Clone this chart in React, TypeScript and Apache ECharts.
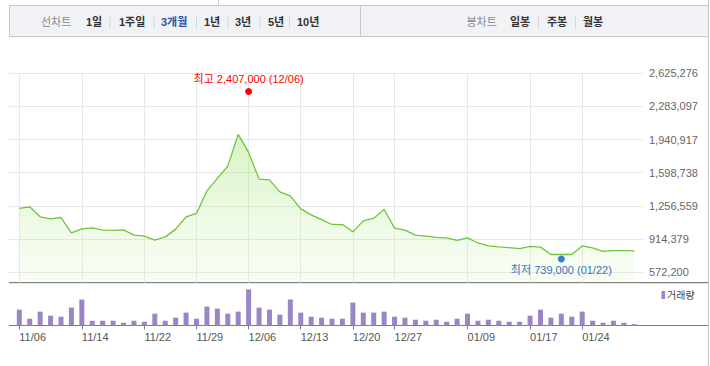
import { useEffect, useRef } from 'react';
import * as echarts from 'echarts';

// ---- data ----
const dates = [
  '11/06','11/07','11/08','11/09','11/10','11/13','11/14','11/15','11/16','11/17',
  '11/20','11/21','11/22','11/23','11/24','11/27','11/28','11/29','11/30','12/01',
  '12/04','12/05','12/06','12/07','12/08','12/11','12/12','12/13','12/14','12/15',
  '12/18','12/19','12/20','12/21','12/22','12/26','12/27','12/28','01/02','01/03',
  '01/04','01/05','01/08','01/09','01/10','01/11','01/12','01/15','01/16','01/17',
  '01/18','01/19','01/22','01/23','01/24','01/25','01/26','01/29','01/30','01/31',
];
const closes = [
  1230000,1247000,1144000,1123000,1137000,978000,1020000,1030000,1006000,1003000,
  1009000,955000,944000,903000,937000,1017000,1144000,1179000,1412000,1540000,
  1667000,1995000,1809000,1533000,1526000,1402000,1361000,1226000,1164000,1115000,
  1065000,1064000,989000,1102000,1130000,1220000,1027000,1006000,955000,944000,
  931000,927000,900000,927000,874000,843000,834000,827000,815000,838000,
  831000,755000,755000,755000,844000,823000,787000,796000,796000,792000,
];
const volumes = [
  157000,67000,137000,97000,87000,177000,257000,47000,47000,47000,
  27000,47000,37000,117000,47000,77000,127000,67000,187000,167000,
  117000,137000,357000,177000,157000,107000,257000,127000,87000,77000,
  67000,67000,227000,127000,127000,137000,87000,77000,57000,47000,
  57000,37000,67000,117000,47000,57000,47000,37000,37000,97000,
  157000,77000,117000,87000,137000,47000,27000,47000,27000,13000,
];
const tickDates = ['11/06','11/14','11/22','11/29','12/06','12/13','12/20','12/27','01/09','01/17','01/24'];
const yTickLabels = [572200, 914379, 1256559, 1598738, 1940917, 2283097, 2625276];
const highPoint = { date: '12/06', value: 2407000 };
const lowPoint = { date: '01/22', value: 739000 };
const lineTabs = ['1일', '1주일', '3개월', '1년', '3년', '5년', '10년'];
const candleTabs = ['일봉', '주봉', '월봉'];
const selectedTab = '3개월';

const FONT = "'Liberation Sans', Arial, 'Noto Sans CJK KR', sans-serif";
const fmt = (v: number) => v.toLocaleString('en-US');
const isTick = (_i: number, v: string) => tickDates.includes(v);

export default function App() {
  const ref = useRef<HTMLDivElement>(null);
  useEffect(() => {
    if (!ref.current) return;
    const chart = echarts.init(ref.current, undefined, { renderer: 'svg' });

    const lineTabX = [86, 119, 161, 204, 235, 268, 297];
    const lineSepX = [110, 154, 196.5, 228, 260, 289.5];
    const candleTabX = [510, 547, 583];
    const candleSepX = [538.5, 575.5];

    const graphic: any[] = [
      { type: 'line', shape: { x1: 218.5, y1: 0, x2: 218.5, y2: 5 }, style: { stroke: '#cfcfcf', lineWidth: 1 } },
      { type: 'rect', shape: { x: 9.5, y: 5.5, width: 699, height: 31 }, style: { fill: '#f0f2f6', stroke: '#c6c8cc', lineWidth: 1 } },
      { type: 'line', shape: { x1: 360.5, y1: 6, x2: 360.5, y2: 36 }, style: { stroke: '#c6c8cc', lineWidth: 1 } },
      { type: 'text', x: 41, y: 22, style: { text: '선차트', fill: '#8a8a8a', font: `11px ${FONT}`, verticalAlign: 'middle' } },
      { type: 'text', x: 466.5, y: 22, style: { text: '봉차트', fill: '#8a8a8a', font: `11px ${FONT}`, verticalAlign: 'middle' } },
      ...lineTabs.map((t, i) => ({
        type: 'text', x: lineTabX[i], y: 22,
        style: { text: t, fill: t === selectedTab ? '#2d4fa6' : '#333', font: `bold 11px ${FONT}`, verticalAlign: 'middle' },
      })),
      ...candleTabs.map((t, i) => ({
        type: 'text', x: candleTabX[i], y: 22,
        style: { text: t, fill: '#333', font: `bold 11px ${FONT}`, verticalAlign: 'middle' },
      })),
      ...[...lineSepX, ...candleSepX].map((x) => ({
        type: 'line', shape: { x1: x, y1: 16, x2: x, y2: 28 }, style: { stroke: '#d4d6da', lineWidth: 1 },
      })),
      { type: 'line', shape: { x1: 708.5, y1: 0, x2: 708.5, y2: 366 }, style: { stroke: '#c6c8cc', lineWidth: 1 } },
      { type: 'line', shape: { x1: 9, y1: 282.5, x2: 708, y2: 282.5 }, style: { stroke: '#7d7d7d', lineWidth: 1 } },
      { type: 'line', shape: { x1: 9, y1: 283.5, x2: 708, y2: 283.5 }, style: { stroke: '#e4e4e4', lineWidth: 1 } },
      { type: 'line', shape: { x1: 9, y1: 325.5, x2: 708, y2: 325.5 }, style: { stroke: '#7d7d7d', lineWidth: 1 } },
      { type: 'rect', shape: { x: 661.5, y: 291, width: 3.5, height: 8 }, style: { fill: '#9a85c6' } },
      { type: 'text', x: 667, y: 295.5, style: { text: '거래량', fill: '#444', font: `10px ${FONT}`, verticalAlign: 'middle' } },
    ];

    const option: any = {
      animation: false,
      textStyle: { fontFamily: FONT },
      graphic,
      grid: [
        { left: 19.3, top: 73.3, width: 615, height: 209.2 },
        { left: 9, top: 73.3, width: 634, height: 198.8 },
        { left: 19.3, top: 283, width: 615, height: 42.5 },
      ],
      xAxis: [
        {
          gridIndex: 0, type: 'category', data: dates, boundaryGap: false,
          axisLine: { show: false }, axisTick: { show: false }, axisLabel: { show: false },
          splitLine: { show: true, interval: isTick, lineStyle: { color: '#e8e8e8', width: 1 } },
        },
        { gridIndex: 1, type: 'value', min: 0, max: 1, show: false },
        {
          gridIndex: 2, type: 'category', data: dates, boundaryGap: false,
          axisLine: { show: false },
          axisTick: { show: true, interval: isTick, length: 4, lineStyle: { color: '#7d7d7d' } },
          axisLabel: { show: true, interval: isTick, align: 'left', margin: 6, fontSize: 11, color: '#555', fontFamily: FONT },
          splitLine: { show: false },
        },
      ],
      yAxis: [
        { gridIndex: 0, type: 'value', min: 466000, max: 2625276, show: false, splitLine: { show: false } },
        {
          gridIndex: 1, type: 'value', position: 'right', min: 0, max: yTickLabels.length - 1, interval: 1,
          axisLine: { show: false }, axisTick: { show: false },
          axisLabel: { margin: 6, fontSize: 11, color: '#666', fontFamily: FONT, formatter: (v: number) => fmt(yTickLabels[v]) },
          splitLine: { show: true, lineStyle: { color: '#e8e8e8', width: 1 } },
        },
        { gridIndex: 2, type: 'value', min: 0, max: 420000, show: false, splitLine: { show: false } },
      ],
      series: [
        {
          name: '종가', type: 'line', xAxisIndex: 0, yAxisIndex: 0, data: closes,
          symbol: 'none', lineStyle: { color: '#6cc63a', width: 1.3 },
          areaStyle: {
            color: new echarts.graphic.LinearGradient(0, 0, 0, 1, [
              { offset: 0, color: 'rgba(140,222,80,0.5)' },
              { offset: 1, color: 'rgba(205,240,175,0.18)' },
            ]),
          },
        },
        {
          name: '최고', type: 'scatter', xAxisIndex: 0, yAxisIndex: 0,
          data: [[highPoint.date, highPoint.value]], symbolSize: 7, symbolOffset: [0, -3],
          itemStyle: { color: '#ff0000', opacity: 1 },
          label: {
            show: true, position: 'top', distance: 3, color: '#ff0000', fontSize: 11, fontFamily: FONT,
            formatter: () => `최고 ${fmt(highPoint.value)} (${highPoint.date})`,
          },
        },
        {
          name: '최저', type: 'scatter', xAxisIndex: 0, yAxisIndex: 0,
          data: [[lowPoint.date, lowPoint.value]], symbolSize: 7, symbolOffset: [0, 3],
          itemStyle: { color: '#1f66d8', opacity: 1 },
          label: {
            show: true, position: 'bottom', distance: 2, color: '#1a5ccc', fontSize: 11, fontFamily: FONT,
            formatter: () => `최저 ${fmt(lowPoint.value)} (${lowPoint.date})`,
          },
        },
        {
          name: '거래량', type: 'bar', xAxisIndex: 2, yAxisIndex: 2, data: volumes,
          barWidth: 5, clip: false, itemStyle: { color: '#9a85c6' },
        },
      ],
    };
    chart.setOption(option);
    return () => chart.dispose();
  }, []);

  return <div ref={ref} style={{ position: 'fixed', left: 0, top: 0, width: 710, height: 366, background: '#fff' }} />;
}
